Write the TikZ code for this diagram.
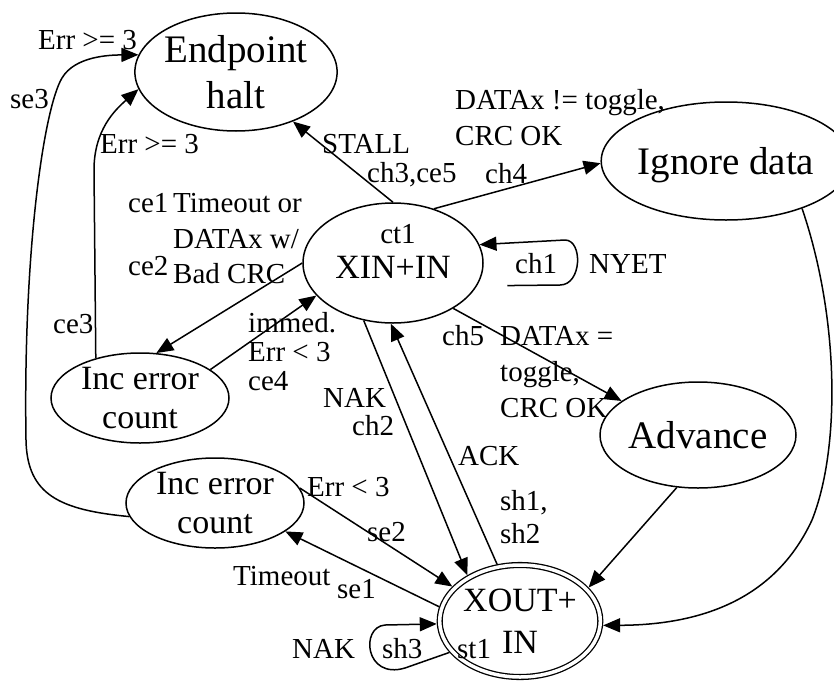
\documentclass[tikz,border=0pt]{standalone}
\usepackage{fontspec}
\setmainfont{Liberation Serif}
\usetikzlibrary{arrows.meta,shapes.geometric}
\begin{document}
\begin{tikzpicture}[x=1pt,y=-1pt,
  state/.style={draw, ellipse, line width=1.5pt, inner sep=0pt},
  big/.style={font=\fontsize{39}{46}\selectfont},
  mid/.style={font=\fontsize{34}{39}\selectfont},
  lbl/.style={anchor=base west, inner sep=0pt, font=\fontsize{29}{34}\selectfont},
  edge/.style={line width=1.5pt, -{Triangle[length=17pt,width=14pt]}}]
\useasboundingbox (0,0) rectangle (834,680);

% states
\node[state,big,align=center,minimum width=194pt,minimum height=118pt] (eh) at (236,72) {Endpoint\\halt};
\node[state,mid,minimum width=180pt,minimum height=120pt,text height=30.5pt,text depth=0pt] (xin) at (393,263) {XIN+IN};
\node[state,big,minimum width=218pt,minimum height=118pt,text depth=0pt] (ig) at (726,161) {Ignore data};
\node[state,big,minimum width=194pt,minimum height=106pt] (adv) at (698,435) {Advance};
\node[state,mid,align=center,minimum width=178pt,minimum height=90pt] (ie1) at (140,398) {Inc error\\count};
\node[state,mid,align=center,minimum width=178pt,minimum height=90pt] (ie2) at (215,503) {Inc error\\count};
\node[state,align=center,font=\fontsize{34}{42}\selectfont,line width=1.3pt,double,double distance=3.5pt,
      minimum width=160pt,minimum height=112pt,outer sep=3pt] (xo) at (520,621) {XOUT+\\IN};

% transitions
\draw[edge] (ie2.189) .. controls (60,510) and (27,495) .. (26,440)
  .. controls (23,250) and (44,108) .. (62,78)
  .. controls (75,56) and (110,55) .. (eh.170);
\draw[edge] (ie1.138) -- (94,170) .. controls (94,130) and (115,110) .. (eh.190);
\draw[edge] (xin.90) -- (eh.-41);
\draw[edge] (xin.53) -- (ig.181);
\draw[edge] ([xshift=30pt]xin.-15) -- (560,285) .. controls (582,285) and (583,240) .. (565,240) -- (xin.12);
\draw[edge] (xin.-37) -- (adv.156);
\draw[edge] (xin.west) -- (ie1.70);
\draw[edge] (ie1.22) -- (xin.203);
\draw[edge] (xin.243) -- (xo.139);
\draw[edge] (xo.112) -- (xin.268);
\draw[edge] (adv.248) -- (xo.26);
\draw[edge] (ig.-32) .. controls (840,320) and (840,450) .. (812,520)
  .. controls (775,600) and (700,625) .. (xo.-3);
\draw[edge] (ie2.10) -- (xo.153);
\draw[edge] (xo.170) -- (ie2.-22);
\draw[edge] (xo.204) -- (405,668) .. controls (365,680) and (360,627) .. (385,625) -- (xo.182);

% transition labels
\node[lbl] (l1) at (38,49) {Err >= 3};
\node[lbl] (l2) at (10,108) {se3};
\node[lbl] (l3) at (100,153) {Err >= 3};
\node[lbl] (l4) at (53,333) {ce3};
\node[lbl] (l5) at (322,153) {STALL};
\node[lbl] (l6) at (367,182) {ch3,ce5};
\node[lbl] (l7) at (455,109) {DATAx != toggle,};
\node[lbl] (l8) at (455,145) {CRC OK};
\node[lbl] (l9) at (485,183) {ch4};
\node[lbl] (l10) at (128,212) {ce1};
\node[lbl] (l11) at (173,212) {Timeout or};
\node[lbl] (l12) at (173,248) {DATAx w/};
\node[lbl] (l13) at (128,275) {ce2};
\node[lbl] (l14) at (173,283) {Bad CRC};
\node[lbl,anchor=base] (l15) at (398,243) {ct1};
\node[lbl] (l16) at (515,273) {ch1};
\node[lbl] (l17) at (589,273) {NYET};
\node[lbl] (l18) at (248,332) {immed.};
\node[lbl] (l19) at (248,361) {Err < 3};
\node[lbl] (l20) at (248,390) {ce4};
\node[lbl] (l21) at (442,345) {ch5};
\node[lbl] (l22) at (500,345) {DATAx =};
\node[lbl] (l23) at (500,381) {toggle,};
\node[lbl] (l24) at (500,417) {CRC OK};
\node[lbl] (l25) at (323,407) {NAK};
\node[lbl] (l26) at (352,435) {ch2};
\node[lbl] (l27) at (458,465) {ACK};
\node[lbl] (l28) at (500,510) {sh1,};
\node[lbl] (l29) at (500,543) {sh2};
\node[lbl] (l30) at (307,496) {Err < 3};
\node[lbl] (l31) at (367,541) {se2};
\node[lbl] (l32) at (233,585) {Timeout};
\node[lbl] (l33) at (337,598) {se1};
\node[lbl] (l34) at (292,658) {NAK};
\node[lbl] (l35) at (382,658) {sh3};
\node[lbl] (l36) at (457,658) {st1};
\end{tikzpicture}
\end{document}
